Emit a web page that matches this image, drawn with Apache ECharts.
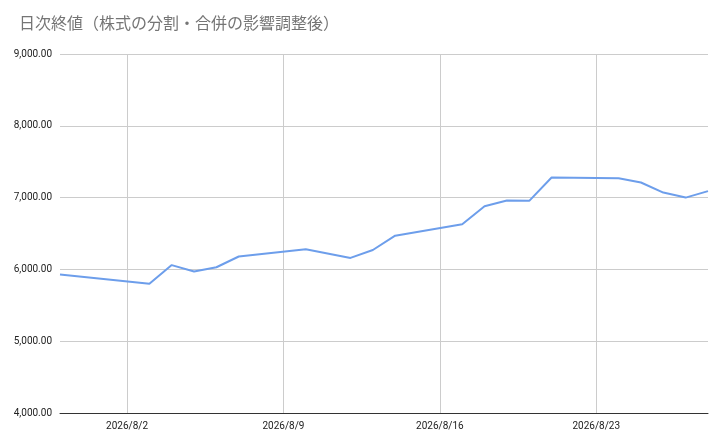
<!DOCTYPE html>
<html><head><meta charset="utf-8">
<script src="https://cdn.jsdelivr.net/npm/echarts@6/dist/echarts.min.js"></script>
<style>html,body{margin:0;padding:0;background:#fff}#c{width:718px;height:441px}</style>
</head><body><div id="c"></div>
<script>
const title = "日次終値（株式の分割・合併の影響調整後）";
const dates = ["7/30","7/31","8/1","8/2","8/3","8/4","8/5","8/6","8/7","8/8","8/9","8/10","8/11","8/12","8/13","8/14","8/15","8/16","8/17","8/18","8/19","8/20","8/21","8/22","8/23","8/24","8/25","8/26","8/27","8/28"].map(d=>"2026/"+d);
const values = [5930,null,null,null,5800,6060,5970,6030,6180,null,null,6280,null,6160,6270,6470,null,null,6630,6880,6960,6955,7280,null,null,7270,7210,7070,7000,7090];
const labelDays = ["2026/8/2","2026/8/9","2026/8/16","2026/8/23"];
const show = (i,v)=>labelDays.includes(dates[i]);
echarts.init(document.getElementById('c')).setOption({
  animation:false,
  title:{text:title,left:14,top:10,textStyle:{fontSize:16,fontWeight:'normal',color:'#757575',fontFamily:'Noto Sans CJK JP'}},
  grid:{left:60,right:10,top:54,bottom:28},
  xAxis:{type:'category',data:dates,boundaryGap:false,
    axisLine:{lineStyle:{color:'#333'}},axisTick:{show:false},
    axisLabel:{interval:show,formatter:v=>v,color:'#222',fontSize:10,fontFamily:'Roboto'},
    splitLine:{show:true,interval:show,lineStyle:{color:'#ccc'}}},
  yAxis:{type:'value',min:4000,max:9000,interval:1000,
    axisLine:{show:false},axisTick:{show:false},
    axisLabel:{color:'#222',fontSize:10,fontFamily:'Roboto',formatter:v=>v.toLocaleString('en-US',{minimumFractionDigits:2})},
    splitLine:{lineStyle:{color:'#ccc'}}},
  series:[{type:'line',data:values,connectNulls:true,showSymbol:false,lineStyle:{color:'#6d9eeb',width:2}}]
});
</script></body></html>
